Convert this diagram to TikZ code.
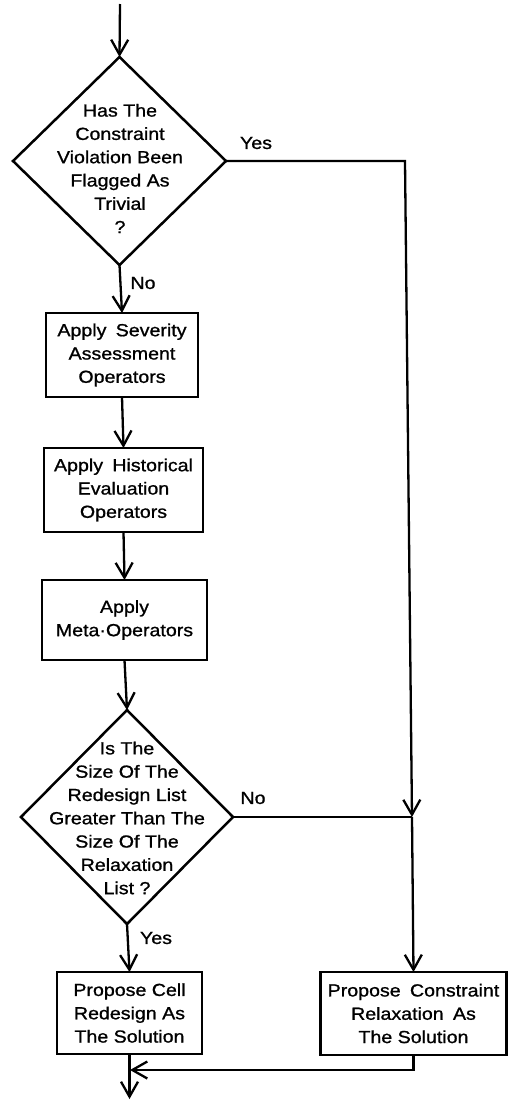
\documentclass[tikz,border=0pt]{standalone}
\usepackage{fontspec}
\setmainfont{Liberation Sans}[FakeStretch=1.12,FakeBold=1]
\usetikzlibrary{shapes.geometric,arrows.meta}
\newcommand\wsp{\hspace{0.22em}}
\begin{document}
\begin{tikzpicture}[x=1pt,y=-1pt,
  every node/.style={font=\fontsize{17.5}{23.3}\selectfont},
  procbox/.style={draw,line width=2.5pt,rectangle,align=center,inner sep=0pt,outer sep=0pt},
  decision/.style={draw,line width=2.5pt,diamond,inner sep=0pt,outer sep=0pt,
    minimum width=213pt,minimum height=208pt},
  question/.style={align=center,inner sep=0pt},
  flow/.style={line width=2.3pt,-{Straight Barb[length=15pt,width=17pt,line width=2.3pt]}},
  plain/.style={line width=2.3pt},
  lbl/.style={inner sep=0pt}]
\fill[white] (0,0) rectangle (508,1101);
\useasboundingbox (0,0) rectangle (508,1101);

% decisions: outline plus its question
\node[decision] (d1) at (119.5,161) {};
\node[question] (d1t) at (120,168.5)
  {Has The\\Constraint\\Violation Been\\Flagged As\\Trivial\\?};
\node[decision,minimum width=212pt,minimum height=214pt] (d2) at (127,817) {};
\node[question] (d2t) at (127,818)
  {Is The\\Size Of The\\Redesign List\\Greater Than The\\Size Of The\\Relaxation\\List ?};

% process boxes
\node[procbox,minimum width=152pt,minimum height=84pt] (b1) at (122,355)
  {Apply\wsp\ Severity\\Assessment\\Operators};
\node[procbox,minimum width=159pt,minimum height=84pt] (b2) at (123.5,490)
  {Apply\wsp\ Historical\\Evaluation\\Operators};
\node[procbox,minimum width=165pt,minimum height=80pt] (b3) at (124.5,620)
  {Apply\\Meta·Operators};
\node[procbox,minimum width=145pt,minimum height=82pt] (b4) at (129.5,1013)
  {Propose Cell\\Redesign As\\The Solution};
\node[procbox,minimum width=186pt,minimum height=83pt] (b5) at (413.5,1013.5)
  {Propose\wsp\ Constraint\\Relaxation\wsp\ As\\The Solution};

% branch labels
\node[lbl] (lyes1) at (256,143) {Yes};
\node[lbl] (lno1) at (143,283) {No};
\node[lbl] (lno2) at (253,798) {No};
\node[lbl] (lyes2) at (156,938) {Yes};

% routing points
\coordinate (start) at (120,4);
\coordinate (yc) at (405,161);
\coordinate (jn) at (412,817);
\coordinate (rj) at (130,1070);
\coordinate (finish) at (129.5,1099);

% connectors
\draw[flow] (start) -- (d1.north);
\draw[flow] (d1.south) -- (b1.north);
\draw[flow] (b1.south) -- (b2.north);
\draw[flow] (b2.south) -- (b3.north);
\draw[flow] (b3.south) -- (d2.north);
\draw[flow] (d2.south) -- (b4.north);
\draw[flow] (d1.east) -- (yc) -- (jn);
\draw[plain] (d2.east) -- (jn);
\draw[flow] (jn) -- (b5.north);
\draw[flow] (b5.south) |- (rj);
\draw[flow] (b4.south) -- (finish);
\end{tikzpicture}
\end{document}
